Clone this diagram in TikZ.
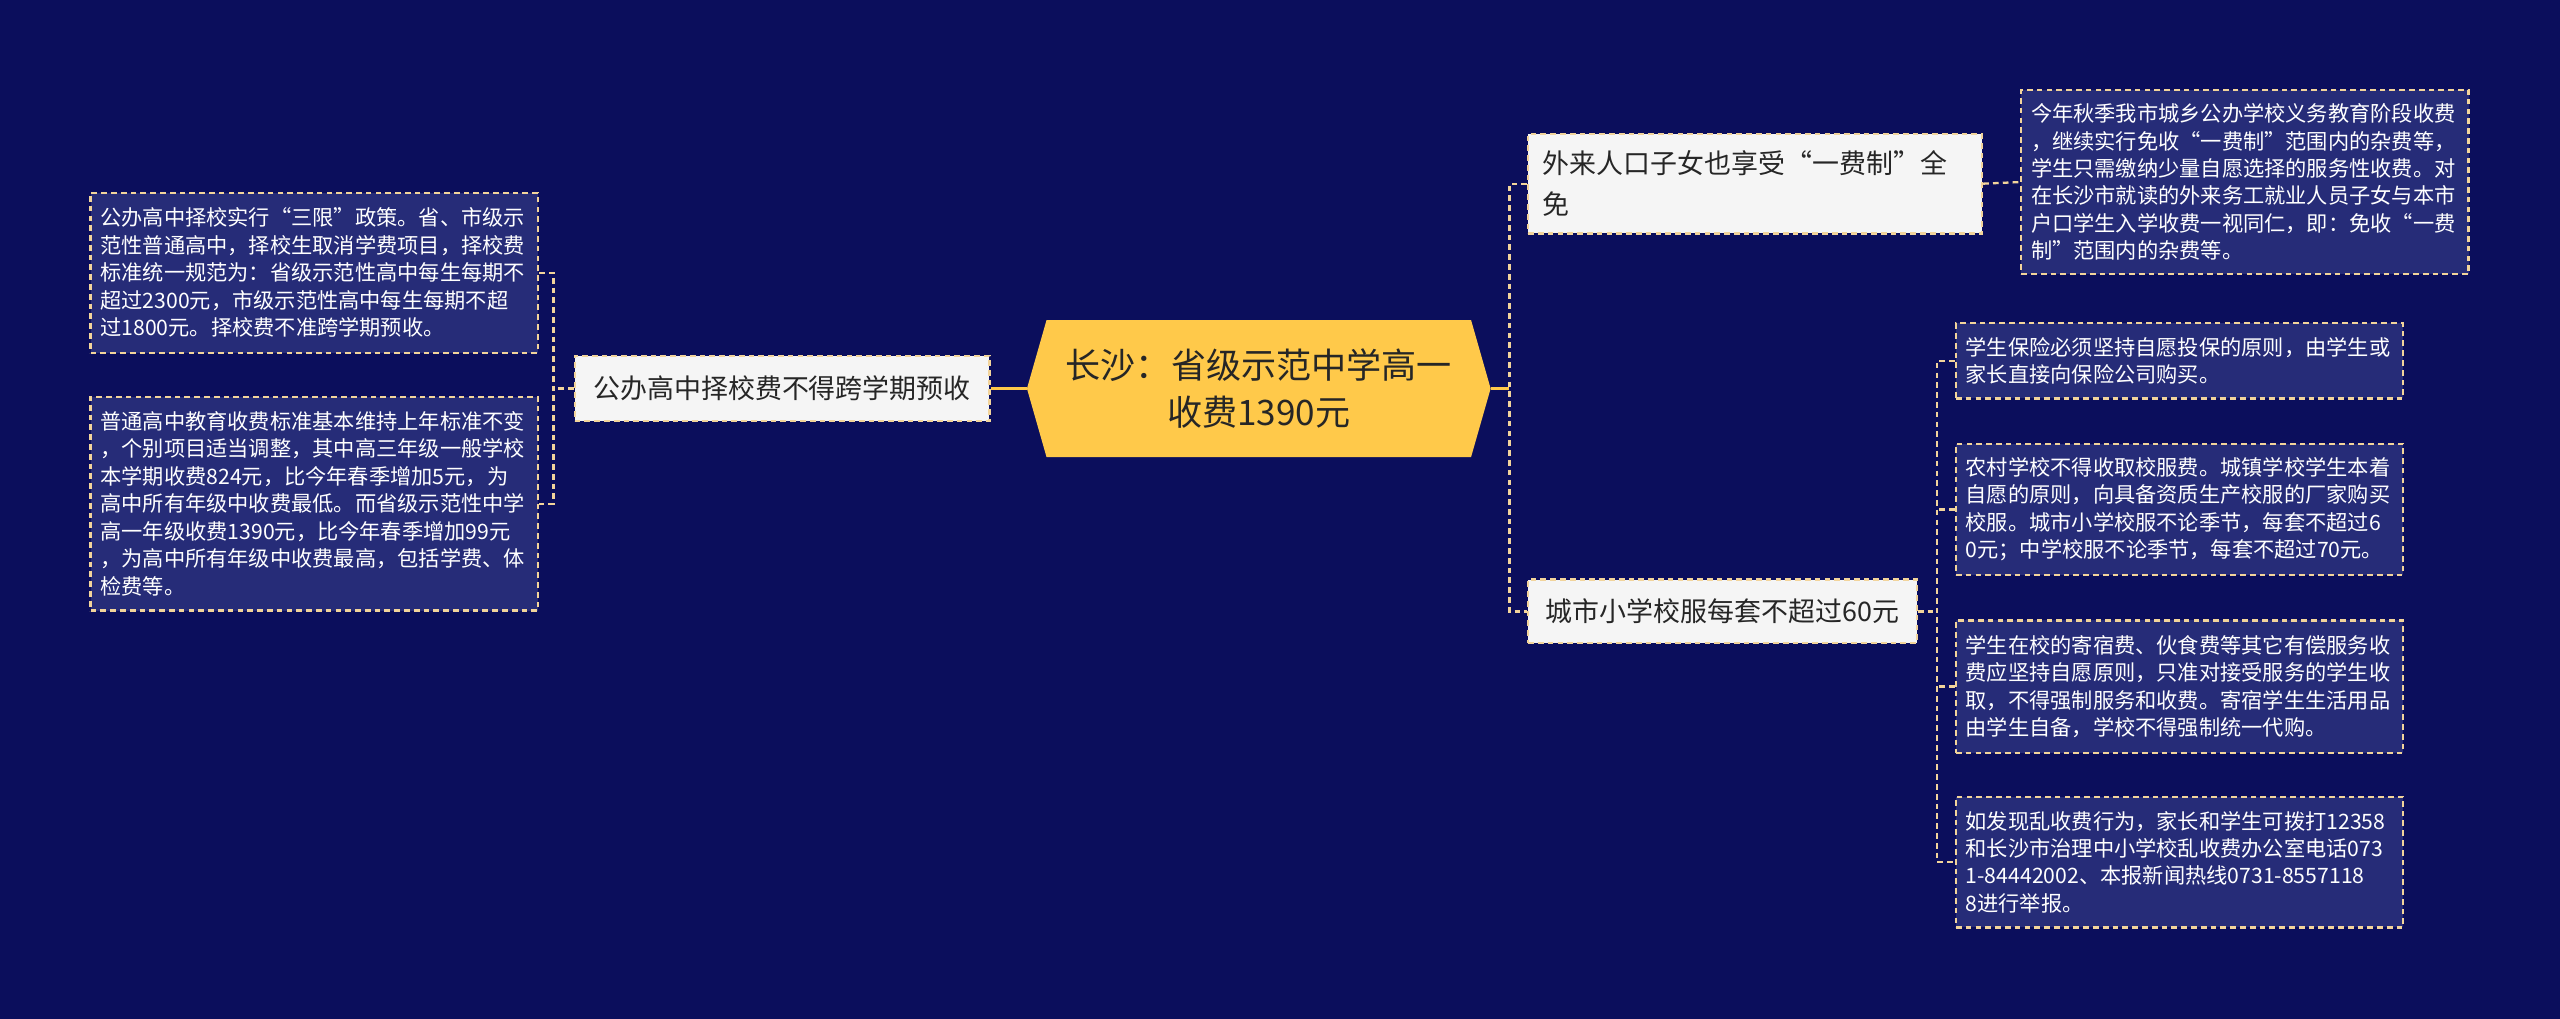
\documentclass[tikz,border=0pt]{standalone}
\usepackage{fontspec}
\setmainfont{Noto Sans CJK SC}
\definecolor{navy}{HTML}{0B0E5C}
\definecolor{leafblue}{HTML}{262C78}
\definecolor{sand}{HTML}{F2D49B}
\definecolor{gold}{HTML}{FFC94A}
\definecolor{ink}{HTML}{262626}

\begin{document}
\begin{tikzpicture}[x=1pt,y=-1pt,
  box/.style={draw=sand,line width=1.4pt,dash pattern=on 3.5pt off 2.5pt,align=left,inner sep=0pt},
  leaf/.style={box,fill=leafblue,text=white,text width=262pt,minimum width=274pt,font=\fontsize{13}{16.8}\selectfont},
  mid/.style={box,fill=white!96!black,text=ink,font=\fontsize{16.5}{25}\selectfont},
  root/.style={fill=navy,minimum width=284pt,minimum height=84pt,align=center,text=ink,
    font=\fontsize{21.5}{29}\selectfont,
    path picture={\fill[gold] ([xshift=12pt]path picture bounding box.north west)
      -- ([xshift=-12pt]path picture bounding box.north east) -- (path picture bounding box.east)
      -- ([xshift=-12pt]path picture bounding box.south east)
      -- ([xshift=12pt]path picture bounding box.south west) -- (path picture bounding box.west) -- cycle;}},
  link/.style={draw=sand,line width=1.4pt,dash pattern=on 3.5pt off 2.5pt},
  trunk/.style={draw=gold,line width=1.6pt}]
  \fill[navy] (0,0) rectangle (1568,624);

  \node[root] (root) at (771,238) {长沙：省级示范中学高一\\收费1390元};

  \node[mid,minimum width=254pt,minimum height=40pt] (midL) at (479,238) {公办高中择校费不得跨学期预收};
  \node[leaf,minimum height=98pt] (leafL1) at (192.5,167) {公办高中择校实行“三限”政策。省、市级示\\范性普通高中，择校生取消学费项目，择校费\\标准统一规范为：省级示范性高中每生每期不\\超过2300元，市级示范性高中每生每期不超\\过1800元。择校费不准跨学期预收。};
  \node[leaf,minimum height=131pt] (leafL2) at (192.5,308.5) {普通高中教育收费标准基本维持上年标准不变\\，个别项目适当调整，其中高三年级一般学校\\本学期收费824元，比今年春季增加5元，为\\高中所有年级中收费最低。而省级示范性中学\\高一年级收费1390元，比今年春季增加99元\\，为高中所有年级中收费最高，包括学费、体\\检费等。};

  \node[mid,text width=260pt,minimum width=278pt,minimum height=61pt] (midR1) at (1075,112.5) {外来人口子女也享受“一费制”全\\免};
  \node[leaf,minimum height=113pt] (leafR1) at (1375,111.5) {今年秋季我市城乡公办学校义务教育阶段收费\\，继续实行免收“一费制”范围内的杂费等，\\学生只需缴纳少量自愿选择的服务性收费。对\\在长沙市就读的外来务工就业人员子女与本市\\户口学生入学收费一视同仁，即：免收“一费\\制”范围内的杂费等。};

  \node[mid,minimum width=238pt,minimum height=39pt] (midR2) at (1055,374.5) {城市小学校服每套不超过60元};
  \node[leaf,minimum height=46pt] (leafR2) at (1335,221) {学生保险必须坚持自愿投保的原则，由学生或\\家长直接向保险公司购买。};
  \node[leaf,minimum height=80pt] (leafR3) at (1335,312) {农村学校不得收取校服费。城镇学校学生本着\\自愿的原则，向具备资质生产校服的厂家购买\\校服。城市小学校服不论季节，每套不超过6\\0元；中学校服不论季节，每套不超过70元。};
  \node[leaf,minimum height=81pt] (leafR4) at (1335,420.5) {学生在校的寄宿费、伙食费等其它有偿服务收\\费应坚持自愿原则，只准对接受服务的学生收\\取，不得强制服务和收费。寄宿学生生活用品\\由学生自备，学校不得强制统一代购。};
  \node[leaf,minimum height=80pt] (leafR5) at (1335,528) {如发现乱收费行为，家长和学生可拨打12358\\和长沙市治理中小学校乱收费办公室电话073\\1-84442002、本报新闻热线0731-8557118\\8进行举报。};

  \coordinate (jL) at (339,238);
  \coordinate (jR) at (924.5,238);
  \coordinate (jR2) at (1186.5,374.5);

  \draw[trunk] (root.west) -- (midL.east);
  \draw[trunk] (root.east) -- (jR);
  \draw[link] (midL.west) -- (jL);
  \draw[link] (leafL1.east) -| (jL) |- (leafL2.east);
  \draw[link] (midR1.west) -| (jR) |- (midR2.west);
  \draw[link] (midR1.east) -- (leafR1.west);
  \draw[link] (midR2.east) -- (jR2);
  \draw[link] (leafR2.west) -| (jR2) |- (leafR5.west);
  \foreach \id in {R3,R4}
    \draw[link] (leaf\id.west) -- (leaf\id.west -| jR2);
\end{tikzpicture}
\end{document}
